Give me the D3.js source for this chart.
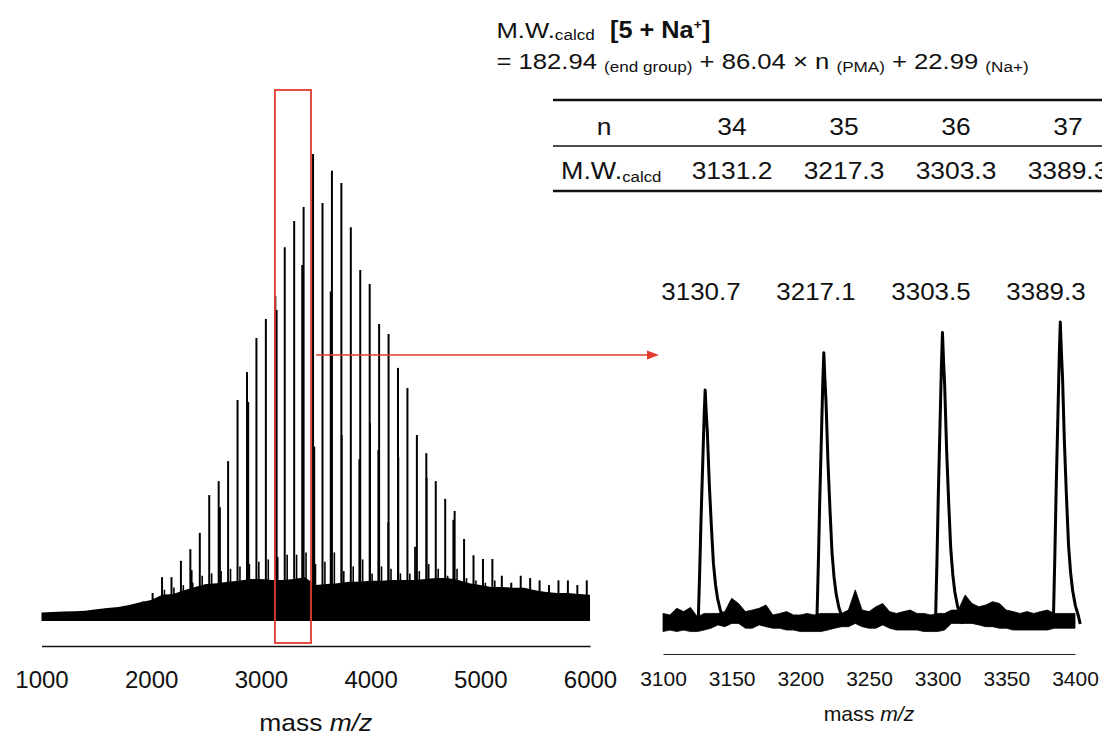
<!DOCTYPE html>
<html>
<head>
<meta charset="utf-8">
<script src="https://cdn.jsdelivr.net/npm/d3@7"></script>
<style>
  html, body { margin: 0; padding: 0; background: #fff; }
  svg { display: block; font-family: "Liberation Sans", Arial, Helvetica, sans-serif; }
  text { white-space: pre; fill: #111; }
</style>
</head>
<body>
<script>
// ---- data ----

// wide spectrum: main [5 + Na+] series (n = 19 ... 67), m/z and relative intensity (%)
const peakMz = [1840.7, 1926.7, 2012.8, 2098.8, 2184.9, 2270.9, 2356.9, 2443.0, 2529.0, 2615.1,
  2701.1, 2787.1, 2873.2, 2959.2, 3045.3, 3131.3, 3217.3, 3303.4, 3389.4, 3475.4,
  3561.5, 3647.5, 3733.6, 3819.6, 3905.6, 3991.7, 4077.7, 4163.8, 4249.8, 4335.8,
  4421.9, 4507.9, 4594.0, 4680.0, 4766.0, 4852.1, 4938.1, 5024.2, 5110.2, 5196.2,
  5282.3, 5368.3, 5454.4, 5540.4, 5626.4, 5712.5, 5798.5, 5884.6, 5970.6]
const peakInt = [2.8, 4.0, 5.8, 9.2, 9.2, 12.7, 15.2, 18.7, 26.8, 29.8,
  34.1, 47.2, 53.2, 60.5, 64.6, 69.5, 80.0, 85.6, 88.6, 100,
  89.5, 96.4, 93.8, 84.3, 75.1, 72.1, 63.5, 61.4, 54.1, 49.8,
  39.7, 35.8, 29.8, 26.0, 23.4, 17.4, 13.9, 13.1, 13.1, 9.5,
  8.0, 9.5, 9.0, 8.5, 7.5, 8.5, 8.5, 7.5, 8.5]

// shoulders right beside some main peaks
const shoulderMz = [2369, 2627, 2885, 3144, 3376, 3487, 3636, 3737, 3897, 3995, 4070, 4161, 4253, 4405, 4511, 4754]
const shoulderInt = [10.7, 24.2, 46.8, 66.5, 76.2, 37.2, 70.5, 39.7, 34.5, 42.3, 36.5, 21, 35, 15.7, 30.5, 21.5]

// minor series about 22 Da above each main peak
const minorMz = [2120.8, 2206.9, 2292.9, 2378.9, 2465.0, 2551.0, 2637.1, 2723.1, 2809.1, 2895.2,
  2981.2, 3067.3, 3153.3, 3239.3, 3325.4, 3411.4, 3497.4, 3583.5, 3669.5, 3755.6,
  3841.6, 3927.6, 4013.7, 4099.7, 4185.8, 4271.8, 4357.8, 4443.9, 4529.9, 4616.0,
  4702.0, 4788.0, 4874.1, 4960.1, 5046.2, 5132.2]
const minorInt = [6.5, 7, 7.5, 8, 9.5, 10, 10.5, 11, 11.5, 12,
  12.5, 13, 13.5, 14, 14, 14.5, 12, 12.5, 14.5, 10.5,
  11.5, 13, 10, 11.5, 11, 10, 10, 10.5, 12, 11,
  9.5, 11, 9, 8.5, 8, 8.5]

// top of the noise floor, every 100 Da from 1000 to 6000
const noiseMz = d3.range(1000, 6001, 100)
const noiseTop = [1.6, 1.7, 1.8, 1.9, 2.0, 2.3, 2.6, 2.8, 3.2, 3.8,
  4.3, 5.4, 5.6, 6.4, 7.1, 7.7, 7.9, 8.2, 8.4, 8.8,
  8.8, 8.6, 8.6, 8.8, 9.2, 7.5, 7.7, 7.9, 8.2, 8.2,
  8.4, 8.4, 8.6, 8.6, 8.6, 8.8, 9.0, 9.0, 8.6, 7.9,
  7.5, 7.1, 7.1, 6.9, 6.9, 6.4, 6.0, 5.8, 5.8, 5.6, 5.4]

const leftTicks = [1000, 2000, 3000, 4000, 5000, 6000]
const boxRange = [3128, 3457]

// zoomed spectrum 3100 - 3400
const zoomPeakMz = [3130.7, 3217.1, 3303.5, 3389.3]
const zoomPeakInt = [77.5, 89.8, 96.5, 100]
const shapeDa = [-6.5, -5, -4, -3, -1.6, -0.8, 0, 0.8, 1.6, 3, 4.5, 6, 7.5, 9, 11, 13, 14.5]
const shapeRel = [0, 0.02, 0.22, 0.45, 0.72, 0.88, 1, 0.9, 0.82, 0.6, 0.42, 0.26, 0.17, 0.11, 0.06, 0.03, 0]
// noise band of the zoomed trace, every 5 Da from 3100 to 3400
const zoomNoiseMz = d3.range(3100, 3401, 5)
const zoomNoiseTop = [3.5, 3.0, 5.2, 4.1, 5.5, 2.4, 3.5, 3.5, 3.5, 4.1,
  8.5, 6.8, 4.1, 4.6, 5.2, 6.3, 3.0, 3.5, 4.1, 3.0,
  3.0, 3.5, 3.0, 3.5, 3.5, 3.5, 3.5, 4.6, 11.3, 4.6,
  4.1, 5.7, 6.8, 4.1, 3.5, 4.1, 4.6, 3.5, 3.5, 3.0,
  3.5, 3.5, 4.6, 4.6, 9.6, 6.8, 5.7, 6.3, 7.4, 6.8,
  4.6, 4.1, 3.5, 4.1, 3.5, 4.1, 4.6, 3.5, 3.5, 3.5,
  3.5]
const zoomNoiseBottom = [-2.5, -2.0, -2.5, -2.0, -2.5, -2.5, -2.0, -1.4, -0.3, -0.9,
  0.2, 0.2, -1.4, -1.4, -0.3, -0.9, -1.4, -1.4, -2.0, -2.0,
  -2.5, -2.5, -2.5, -2.5, -2.0, -1.4, -0.9, -0.9, 0.2, -0.9,
  -1.4, -1.4, -0.3, -1.4, -2.0, -2.0, -2.0, -2.0, -2.5, -2.5,
  -2.5, -2.0, 0.2, 0.2, 0.2, 0.2, -0.3, -0.9, -0.9, -1.4,
  -1.4, -2.0, -2.0, -2.0, -2.0, -2.0, -2.0, -1.4, -1.4, -1.4,
  -1.4]
const rightTicks = [3100, 3150, 3200, 3250, 3300, 3350, 3400]

// table
const tableN = ['34', '35', '36', '37']
const tableMW = ['3131.2', '3217.3', '3303.3', '3389.3']

const RED = '#e23b2d'

const svg = d3.select('body').append('svg')
    .attr('width', 1102)
    .attr('height', 738)

// scales
const xL = d3.scaleLinear([1000, 6000], [41.5, 590])
const yL = d3.scaleLinear([0, 100], [620, 154])
const xR = d3.scaleLinear([3100, 3400], [663, 1075])
const yR = d3.scaleLinear([0, 100], [624, 322])

// ---- left: full spectrum ----
const left = svg.append('g')

left.append('path')
    .datum(noiseMz)
    .attr('fill', '#000')
    .attr('d', d3.area()
        .x(d => xL(d))
        .y0(yL(-0.2))
        .y1((d, i) => yL(noiseTop[i])))

left.selectAll('line.minor')
    .data(minorMz)
    .enter().append('line')
    .attr('class', 'minor')
    .attr('x1', d => xL(d)).attr('x2', d => xL(d))
    .attr('y1', yL(0))
    .attr('y2', (d, i) => yL(minorInt[i]))
    .attr('stroke', '#000')
    .attr('stroke-width', 1.6)

left.selectAll('line.shoulder')
    .data(shoulderMz)
    .enter().append('line')
    .attr('class', 'shoulder')
    .attr('x1', d => xL(d)).attr('x2', d => xL(d))
    .attr('y1', yL(0))
    .attr('y2', (d, i) => yL(shoulderInt[i]))
    .attr('stroke', '#000')
    .attr('stroke-width', 1.8)

left.selectAll('line.peak')
    .data(peakMz)
    .enter().append('line')
    .attr('class', 'peak')
    .attr('x1', d => xL(d)).attr('x2', d => xL(d))
    .attr('y1', yL(0))
    .attr('y2', (d, i) => yL(peakInt[i]))
    .attr('stroke', '#000')
    .attr('stroke-width', 2)

const axL = left.append('g')
    .attr('transform', 'translate(0,646)')
    .call(d3.axisBottom(xL).tickValues(leftTicks).tickSize(0).tickFormat(d3.format('d')))
axL.select('.domain').attr('stroke', '#111').attr('stroke-width', 1.6)
axL.selectAll('text')
    .attr('y', 42).attr('dy', 0)
    .attr('font-size', 24)
    .attr('font-family', null)
    .attr('fill', '#111')

const tL = left.append('text')
    .attr('transform', `translate(${xL(3500)},731) scale(1.1,1)`)
    .attr('text-anchor', 'middle')
    .attr('font-size', 24)
tL.append('tspan').text('mass ')
tL.append('tspan').attr('font-style', 'italic').text('m/z')

// highlight box + arrow
svg.append('rect')
    .attr('x', xL(boxRange[0]))
    .attr('y', 90)
    .attr('width', xL(boxRange[1]) - xL(boxRange[0]))
    .attr('height', 553)
    .attr('fill', 'none')
    .attr('stroke', RED)
    .attr('stroke-width', 1.8)

svg.append('line')
    .attr('x1', xL(boxRange[1]) + 5).attr('x2', 648)
    .attr('y1', 355).attr('y2', 355)
    .attr('stroke', RED)
    .attr('stroke-width', 1.6)
svg.append('path')
    .attr('d', 'M647,350.5L659,355L647,359.5Z')
    .attr('fill', RED)

// ---- right: zoomed spectrum ----
const right = svg.append('g')

right.append('path')
    .datum(zoomNoiseMz)
    .attr('fill', '#000')
    .attr('stroke', '#000')
    .attr('stroke-width', 0.8)
    .attr('d', d3.area()
        .x(d => xR(d))
        .y0((d, i) => yR(zoomNoiseBottom[i]))
        .y1((d, i) => yR(zoomNoiseTop[i])))

const peakLine = d3.line()
    .x(d => xR(d[0]))
    .y(d => yR(d[1]))

right.selectAll('path.zpeak')
    .data(zoomPeakMz)
    .enter().append('path')
    .attr('class', 'zpeak')
    .attr('fill', 'none')
    .attr('stroke', '#000')
    .attr('stroke-width', 3)
    .attr('stroke-linejoin', 'round')
    .attr('d', (m, i) => peakLine(shapeDa.map((o, j) => [m + o, zoomPeakInt[i] * shapeRel[j]])))

// labels above the peaks sit evenly spaced in the original
const labelX = d3.scalePoint().domain(zoomPeakMz).range([701, 1046])
right.selectAll('text.plabel')
    .data(zoomPeakMz)
    .enter().append('text')
    .attr('class', 'plabel')
    .attr('transform', d => `translate(${labelX(d)},300) scale(1.08,1)`)
    .attr('text-anchor', 'middle')
    .attr('font-size', 24)
    .text(d => d3.format('.1f')(d))

const axR = right.append('g')
    .attr('transform', 'translate(0,654)')
    .call(d3.axisBottom(xR).tickValues(rightTicks).tickSize(0).tickFormat(d3.format('d')))
axR.select('.domain').attr('stroke', '#222').attr('stroke-width', 1.2)
axR.selectAll('text')
    .attr('y', 32).attr('dy', 0)
    .attr('font-size', 20)
    .attr('font-family', null)
    .attr('fill', '#111')
    .attr('transform', 'scale(1.05,1)')

const tR = right.append('text')
    .attr('transform', `translate(${xR(3250)},721) scale(1.06,1)`)
    .attr('text-anchor', 'middle')
    .attr('font-size', 20)
tR.append('tspan').text('mass ')
tR.append('tspan').attr('font-style', 'italic').text('m/z')

// ---- formula ----
const f1 = svg.append('text')
    .attr('transform', 'translate(496.5,38) scale(1.14,1)')
    .attr('font-size', 22.5)
f1.append('tspan').text('M.W.')
f1.append('tspan').attr('font-size', 15).attr('dy', 2).text('calcd')

const f1b = svg.append('text')
    .attr('transform', 'translate(610,38) scale(1.1,1)')
    .attr('font-size', 23)
    .attr('font-weight', 'bold')
f1b.append('tspan').text('[5 + Na')
f1b.append('tspan').attr('font-size', 13).attr('dy', -9).text('+')
f1b.append('tspan').attr('dy', 9).text(']')

const f2 = svg.append('text')
    .attr('transform', 'translate(496.5,69) scale(1.14,1)')
    .attr('font-size', 22.5)
f2.append('tspan').text('= 182.94 ')
f2.append('tspan').attr('font-size', 15).attr('dy', 3).text('(end group)')
f2.append('tspan').attr('dy', -3).text(' + 86.04 × n ')
f2.append('tspan').attr('font-size', 15).attr('dy', 3).text('(PMA)')
f2.append('tspan').attr('dy', -3).text(' + 22.99 ')
f2.append('tspan').attr('font-size', 15).attr('dy', 3).text('(Na+)')

// ---- table ----
const colX = d3.scalePoint().domain(tableN).range([732, 1068])
const table = svg.append('g')

table.selectAll('line.rule')
    .data([[100, 2.6], [146, 1.6], [191, 2.6]])
    .enter().append('line')
    .attr('class', 'rule')
    .attr('x1', 553).attr('x2', 1102)
    .attr('y1', d => d[0]).attr('y2', d => d[0])
    .attr('stroke', '#111')
    .attr('stroke-width', d => d[1])

table.append('text')
    .attr('transform', 'translate(604,135) scale(1.1,1)')
    .attr('text-anchor', 'middle')
    .attr('font-size', 24)
    .text('n')

table.selectAll('text.hn')
    .data(tableN)
    .enter().append('text')
    .attr('class', 'hn')
    .attr('transform', d => `translate(${colX(d)},135) scale(1.1,1)`)
    .attr('text-anchor', 'middle')
    .attr('font-size', 24)
    .text(d => d)

const mw = table.append('text')
    .attr('transform', 'translate(561,179) scale(1.12,1)')
    .attr('font-size', 24)
mw.append('tspan').text('M.W.')
mw.append('tspan').attr('font-size', 15).attr('dy', 3).text('calcd')

table.selectAll('text.mw')
    .data(tableMW)
    .enter().append('text')
    .attr('class', 'mw')
    .attr('transform', (d, i) => `translate(${colX(tableN[i])},179) scale(1.1,1)`)
    .attr('text-anchor', 'middle')
    .attr('font-size', 24)
    .text(d => d)
</script>
</body>
</html>
